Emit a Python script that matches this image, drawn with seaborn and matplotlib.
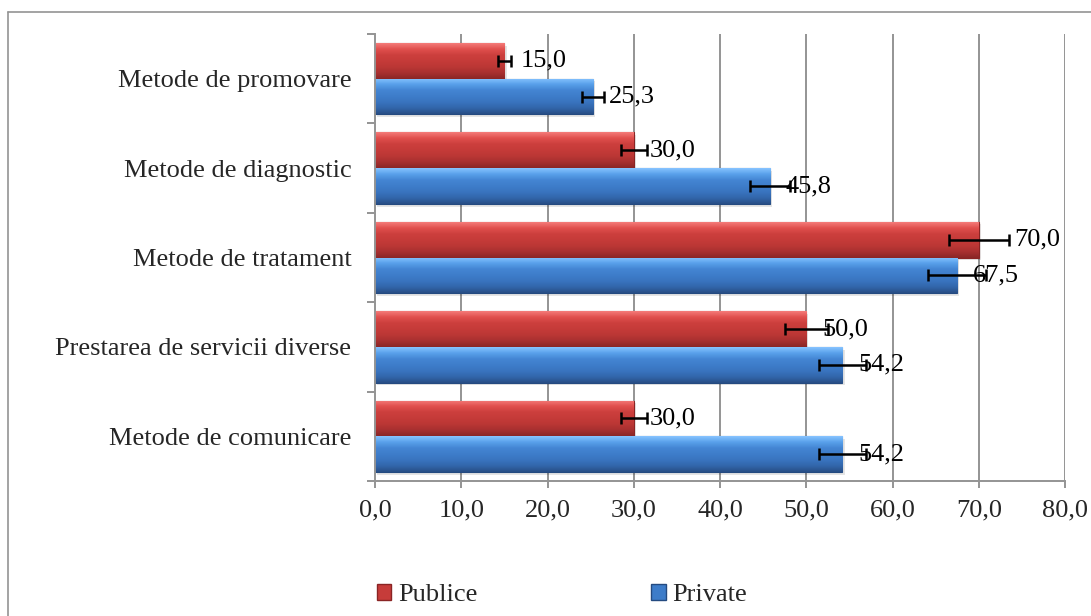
import numpy as np
import pandas as pd
import matplotlib
matplotlib.use("Agg")
import matplotlib.pyplot as plt
from matplotlib.patches import Patch
from matplotlib.lines import Line2D
from matplotlib.colors import to_rgb
from matplotlib.ticker import FuncFormatter, FixedLocator
import seaborn as sns

# ---------------- data ----------------
categories = ["Metode de promovare", "Metode de diagnostic", "Metode de tratament",
              "Prestarea de servicii diverse", "Metode de comunicare"]
series_names = ["Publice", "Private"]
publice = [15.0, 30.0, 70.0, 50.0, 30.0]
private = [25.3, 45.8, 67.5, 54.2, 54.2]
err_publice = [0.75, 1.5, 3.5, 2.5, 1.5]
err_private = [1.27, 2.29, 3.38, 2.71, 2.71]
x_ticks = [0, 10, 20, 30, 40, 50, 60, 70, 80]

df = pd.DataFrame({
    "categorie": categories * 2,
    "serie": [series_names[0]] * len(categories) + [series_names[1]] * len(categories),
    "valoare": publice + private,
})
errors = {series_names[0]: err_publice, series_names[1]: err_private}

# ---------------- style ----------------
sns.set_theme(style="white")
plt.rcParams["font.family"] = ["Liberation Serif", "DejaVu Serif"]
FS = 19
GRID = "#949494"

colors = {"Publice": "#c63c3a", "Private": "#3d7cc9"}
grad = {
    "Publice": ["#f47a78", "#e04f4d", "#cc3f3d", "#c53b39", "#bb3735", "#a83030", "#8a2626"],
    "Private": ["#86c3ff", "#58a0ea", "#4485d3", "#3e7dca", "#3974bf", "#3266ab", "#284f86"],
}
edges = {"Publice": "#8a2424", "Private": "#244a80"}

fig = plt.figure(figsize=(10.91, 6.16), dpi=100)
ax = fig.add_axes([375 / 1091, 1 - 481 / 616, (1065 - 375) / 1091, (481 - 34) / 616])

sns.barplot(data=df, y="categorie", x="valoare", hue="serie", order=categories,
            hue_order=series_names, palette=colors, orient="h", width=0.8,
            errorbar=None, ax=ax, legend=False, saturation=1, zorder=3)

ax.set_xlim(0, 80)
ylim = ax.get_ylim()

# gradient / bevel look + error bars + labels
label_extra = {("Publice", "Metode de tratament"): 14}
for cont, name in zip(ax.containers, series_names):
    cols = np.array([to_rgb(c) for c in grad[name]])
    n = 60
    t = np.linspace(0, 1, n)
    idx = np.linspace(0, 1, len(cols))
    img = np.stack([np.interp(t, idx, cols[:, k]) for k in range(3)], axis=1)
    img = np.repeat(img[:, None, :], 2, axis=1)
    ys, xs = [], []
    for i, p in enumerate(cont.patches):
        x0 = p.get_x(); w = p.get_width(); y0 = p.get_y(); h = p.get_height()
        p.set_edgecolor(edges[name]); p.set_linewidth(0.8)
        im = ax.imshow(img, extent=(x0, x0 + w, y0 + h, y0), origin="upper",
                       aspect="auto", zorder=3.5, interpolation="bilinear")
        im.set_clip_path(p)
        # subtle shadow
        ax.add_patch(plt.Rectangle((x0 + 0.25, y0 + 0.03), w, h, color="#000000",
                                   alpha=0.10, zorder=2.5, lw=0))
        ys.append(y0 + h / 2)
        xs.append(x0 + w)
        cat = categories[i]
        off = 11.5 + label_extra.get((name, cat), 0)
        ax.annotate(f"{w:.1f}".replace(".", ","), xy=(x0 + w, y0 + h / 2),
                    xytext=(off, 0), textcoords="offset points",
                    ha="left", va="center", fontsize=FS, color="black", zorder=6)
    ax.errorbar(xs, ys, xerr=errors[name], fmt="none", ecolor="black",
                elinewidth=1.8, capsize=4.2, capthick=1.8, zorder=5)

ax.set_ylim(ylim)

# grid & axes
ax.set_axisbelow(True)
for xv in x_ticks[1:]:
    ax.axvline(xv, color=GRID, lw=1.4, zorder=1)
for s in ["top", "right"]:
    ax.spines[s].set_visible(False)
for s in ["left", "bottom"]:
    ax.spines[s].set_color(GRID)
    ax.spines[s].set_linewidth(1.4)
    ax.spines[s].set_zorder(4)

ax.xaxis.set_major_locator(FixedLocator(x_ticks))
ax.xaxis.set_major_formatter(FuncFormatter(lambda v, p: f"{v:.1f}".replace(".", ",")))
ax.tick_params(axis="x", which="major", direction="out", length=5, width=1.4,
               color=GRID, labelsize=FS, pad=8, bottom=True)
ax.set_yticks(range(len(categories)))
ax.set_yticklabels(categories)
ax.tick_params(axis="y", which="major", length=0, labelsize=FS, pad=17, left=True)
ax.yaxis.set_minor_locator(FixedLocator(np.arange(len(categories) + 1) - 0.5))
ax.tick_params(axis="y", which="minor", direction="out", length=6, width=1.4,
               color=GRID, left=True)
ax.set_xlabel("")
ax.set_ylabel("")

# legend
handles = [Patch(facecolor=colors[n], edgecolor=edges[n], label=n) for n in series_names]
fig.legend(handles=handles, loc="center", bbox_to_anchor=(0.515, 0.034), ncol=2,
           frameon=False, fontsize=FS, handlelength=0.55, handleheight=0.55,
           handletextpad=0.25, columnspacing=6.6)

# outer chart border
fig.add_artist(Line2D([8 / 1091, 8 / 1091], [0, 1 - 12 / 616], transform=fig.transFigure,
                      color=GRID, lw=1.2))
fig.add_artist(Line2D([8 / 1091, 1], [1 - 12 / 616, 1 - 12 / 616], transform=fig.transFigure,
                      color=GRID, lw=1.2))

fig.savefig("out.png", dpi=100)
